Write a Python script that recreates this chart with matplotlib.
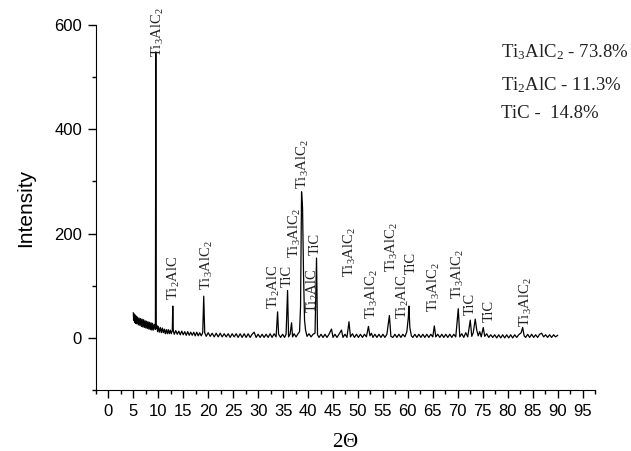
import numpy as np
import matplotlib
matplotlib.use('Agg')
import matplotlib.pyplot as plt
from matplotlib.ticker import MultipleLocator

plt.rcParams['font.family'] = 'Liberation Sans'
plt.rcParams['mathtext.default'] = 'regular'

# XRD trace (2 theta, intensity)
two_theta = [
    5.0, 5.05, 5.15, 5.25, 5.35, 5.45, 5.55, 5.7, 5.85, 6.0, 6.15, 6.3, 6.45, 6.6,
    6.75, 6.9, 7.05, 7.2, 7.35, 7.5, 7.65, 7.8, 7.95, 8.1, 8.25, 8.4, 8.55, 8.7,
    8.85, 9.0, 9.2, 9.42, 9.5, 9.58, 9.7, 9.85, 10.0, 10.2, 10.4, 10.6, 10.8, 11.0,
    11.2, 11.4, 11.6, 11.8, 12.0, 12.2, 12.4, 12.6, 12.8, 12.9, 13.0, 13.2, 13.5,
    13.8, 14.1, 14.4, 14.7, 15.0, 15.3, 15.6, 15.9, 16.2, 16.5, 16.8, 17.1, 17.4,
    17.7, 18.0, 18.3, 18.6, 18.9, 19.1, 19.3, 19.6, 20.0, 20.4, 20.8, 21.2, 21.6,
    22.0, 22.4, 22.8, 23.2, 23.6, 24.0, 24.4, 24.8, 25.2, 25.6, 26.0, 26.4, 26.8,
    27.2, 27.6, 28.0, 28.4, 28.8, 29.2, 29.6, 30.0, 30.4, 30.8, 31.2, 31.6, 32.0,
    32.4, 32.8, 33.2, 33.6, 33.9, 34.1, 34.5, 34.9, 35.3, 35.6, 35.9, 36.1, 36.4,
    36.7, 36.9, 37.2, 37.6, 38.0, 38.3, 38.5, 38.7, 38.9, 39.1, 39.3, 39.5, 39.8,
    40.2, 40.6, 41.0, 41.4, 41.7, 41.9, 42.2, 42.6, 43.0, 43.4, 43.8, 44.2, 44.7,
    45.0, 45.4, 45.8, 46.2, 46.7, 47.0, 47.4, 47.8, 48.2, 48.5, 48.9, 49.3, 49.7,
    50.1, 50.5, 50.9, 51.3, 51.7, 52.1, 52.4, 52.7, 53.0, 53.4, 53.8, 54.2, 54.6,
    55.0, 55.4, 55.8, 56.3, 56.6, 57.0, 57.4, 57.8, 58.2, 58.6, 59.0, 59.4, 59.8,
    60.1, 60.2, 60.4, 60.7, 61.0, 61.4, 61.8, 62.2, 62.6, 63.0, 63.4, 63.8, 64.2,
    64.6, 65.0, 65.3, 65.6, 66.0, 66.4, 66.8, 67.2, 67.6, 68.0, 68.4, 68.8, 69.2,
    69.6, 70.1, 70.4, 70.8, 71.2, 71.6, 72.0, 72.5, 72.8, 73.1, 73.5, 73.8, 74.1,
    74.4, 74.7, 75.1, 75.4, 75.8, 76.2, 76.6, 77.0, 77.4, 77.8, 78.2, 78.6, 79.0,
    79.4, 79.8, 80.2, 80.6, 81.0, 81.4, 81.8, 82.2, 82.7, 83.0, 83.3, 83.6, 84.0,
    84.4, 84.8, 85.2, 85.6, 86.0, 86.4, 86.8, 87.2, 87.6, 88.0, 88.4, 88.8, 89.2,
    89.6, 90.0,
]
intensity = [
    48, 34, 46, 30, 44, 28, 42, 27, 40, 25, 38, 24, 37, 22,
    36, 21, 35, 20, 33, 19, 32, 18, 31, 17, 30, 16, 29, 15,
    28, 15, 26, 16, 548, 18, 24, 12, 22, 11, 20, 10, 19, 10,
    17, 8, 16, 8, 16, 8, 15, 8, 14, 61, 14, 7, 14,
    7, 13, 6, 13, 6, 12, 5, 12, 5, 11, 5, 11, 4,
    11, 4, 10, 4, 10, 80, 10, 3, 10, 3, 9, 2, 9,
    2, 9, 2, 8, 2, 8, 1, 8, 2, 8, 1, 8, 1,
    8, 1, 8, 1, 7, 11, 1, 7, 1, 7, 1, 7, 1,
    8, 1, 8, 2, 50, 7, 1, 7, 1, 7, 91, 2, 7,
    29, 2, 8, 2, 8, 12, 60, 280, 249, 120, 34, 15, 3,
    8, 2, 7, 9, 153, 6, 1, 7, 1, 7, 1, 7, 17,
    1, 7, 1, 7, 15, 1, 7, 1, 31, 2, 8, 1, 7,
    1, 7, 1, 7, 2, 22, 4, 9, 1, 7, 1, 7, 1,
    7, 1, 7, 43, 3, 1, 7, 1, 7, 1, 7, 2, 12,
    40, 61, 20, 4, 1, 7, 1, 7, 1, 7, 1, 7, 1,
    7, 2, 23, 2, 7, 1, 7, 1, 7, 1, 7, 1, 7,
    2, 56, 2, 8, 1, 10, 2, 34, 3, 10, 36, 15, 4,
    12, 2, 20, 3, 8, 1, 6, 1, 6, 0, 6, 0, 6,
    0, 6, 0, 6, 0, 6, 1, 6, 10, 20, 4, 1, 7,
    1, 7, 1, 6, 1, 7, 9, 2, 6, 1, 6, 1, 6,
    2, 5,
]

# phase labels: text, x position, bottom of text (data units)
label_text = [
    r'Ti$_3$AlC$_2$', r'Ti$_2$AlC', r'Ti$_3$AlC$_2$', r'Ti$_2$AlC', 'TiC',
    r'Ti$_3$AlC$_2$', r'Ti$_3$AlC$_2$', r'Ti$_2$AlC', 'TiC', r'Ti$_3$AlC$_2$',
    r'Ti$_3$AlC$_2$', r'Ti$_3$AlC$_2$', r'Ti$_2$AlC', 'TiC', r'Ti$_3$AlC$_2$',
    r'Ti$_3$AlC$_2$', 'TiC', 'TiC', r'Ti$_3$AlC$_2$',
]
label_x = [10.0, 13.1, 19.7, 33.1, 35.9, 37.3, 39.0, 41.0, 41.5, 48.3,
           52.9, 56.9, 59.0, 60.7, 65.3, 70.0, 72.5, 76.3, 83.7]
label_y = [539, 72, 91, 56, 98, 154, 286, 47, 158, 117,
           37, 127, 37, 123, 50, 75, 43, 31, 20]

phase_text = [r'Ti$_3$AlC$_2$ - 73.8%', r'Ti$_2$AlC - 11.3%', 'TiC -  14.8%']
phase_y = [537, 475, 422]

fig = plt.figure(figsize=(6.31, 4.51), dpi=100)
ax = fig.add_axes([0.152, 0.135, 0.791, 0.81])

ax.plot(two_theta, intensity, color='black', linewidth=0.9)

for t, x, y in zip(label_text, label_x, label_y):
    ax.text(x, y, t, rotation=90, ha='center', va='bottom',
            family='Liberation Serif', fontsize=10.5, color='#222222')

for t, y in zip(phase_text, phase_y):
    ax.text(78.7, y, t, ha='left', va='baseline',
            family='Liberation Serif', fontsize=13.5, color='#222222')

ax.set_xlim(-2.5, 97.5)
ax.set_ylim(-100, 600)
ax.xaxis.set_major_locator(MultipleLocator(5))
ax.xaxis.set_minor_locator(MultipleLocator(2.5))
ax.yaxis.set_major_locator(MultipleLocator(200))
ax.yaxis.set_minor_locator(MultipleLocator(100))
ax.tick_params(which='major', direction='out', length=6, width=1, labelsize=12, pad=4)
ax.tick_params(which='minor', direction='out', length=3, width=1)
ax.spines['top'].set_visible(False)
ax.spines['right'].set_visible(False)

ax.set_ylabel('Intensity', fontsize=15, labelpad=14)
ax.set_xlabel(r'2$\Theta$', family='Liberation Serif', fontsize=15, labelpad=10)

fig.savefig('out.png', dpi=100)
